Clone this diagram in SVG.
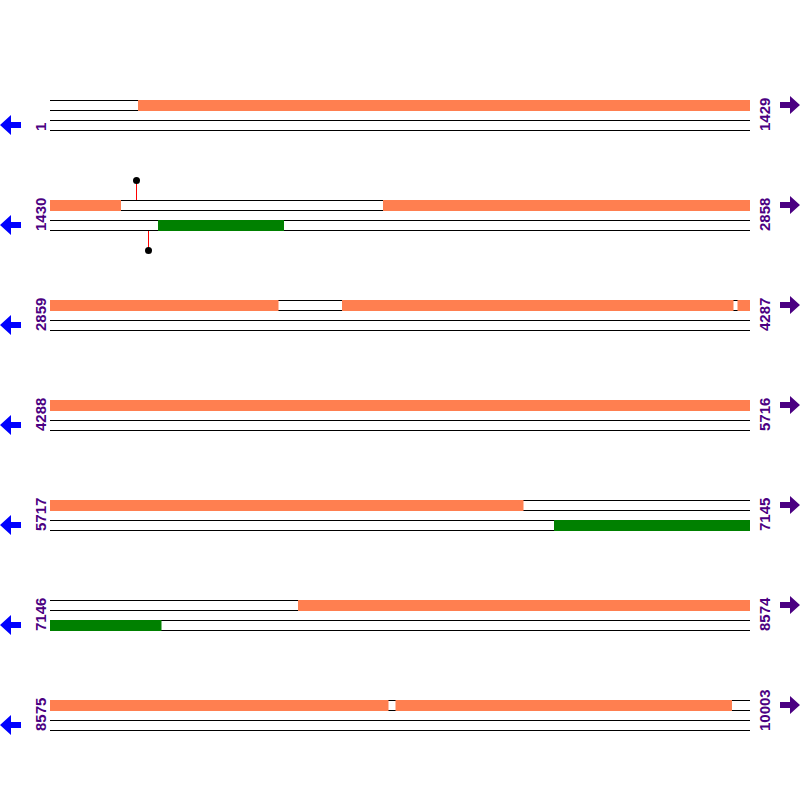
<svg xmlns="http://www.w3.org/2000/svg" width="800" height="800" viewBox="0 0 800 800">
<defs>
<style>
.ln{stroke:#000;stroke-width:1;fill:none}
.or{fill:#FF7F50}
.gr{fill:#008000}
.lbl{font-family:"Liberation Sans",Arial,sans-serif;font-weight:bold;font-size:15px;fill:#4B0082}
.la{fill:#0000FF}
.ra{fill:#4B0082}
.stem{stroke:#FF0000;stroke-width:1}
</style>
<g id="rowlines">
<line class="ln" x1="50" y1="100.5" x2="750" y2="100.5"/>
<line class="ln" x1="50" y1="110.5" x2="750" y2="110.5"/>
<line class="ln" x1="50" y1="120.5" x2="750" y2="120.5"/>
<line class="ln" x1="50" y1="130.5" x2="750" y2="130.5"/>
</g>
<polygon id="larrow" class="la" points="0,125 11,115 11,122 21,122 21,128 11,128 11,135"/>
<polygon id="rarrow" class="ra" points="800,105 790,96 790,102 780,102 780,108 790,108 790,114"/>
</defs>
<rect width="800" height="800" fill="#fff"/>

<g id="row1">
<use href="#rowlines"/>
<rect class="or" x="138" y="100" width="612" height="11"/>
<text class="lbl" transform="translate(46,131) rotate(-90)">1</text>
<text class="lbl" transform="translate(770,131) rotate(-90)">1429</text>
<use href="#larrow"/>
<use href="#rarrow"/>
</g>

<g id="row2">
<use href="#rowlines" y="100"/>
<rect class="or" x="50" y="200" width="71" height="11"/>
<rect class="or" x="383" y="200" width="367" height="11"/>
<rect class="gr" x="158" y="220" width="126" height="11"/>
<text class="lbl" transform="translate(46,231) rotate(-90)">1430</text>
<text class="lbl" transform="translate(770,231) rotate(-90)">2858</text>
<use href="#larrow" y="100"/>
<use href="#rarrow" y="100"/>
</g>

<g id="row3">
<use href="#rowlines" y="200"/>
<rect class="or" x="50" y="300" width="228.5" height="11"/>
<rect class="or" x="342" y="300" width="391.5" height="11"/>
<rect class="or" x="737.5" y="300" width="12.5" height="11"/>
<text class="lbl" transform="translate(46,331) rotate(-90)">2859</text>
<text class="lbl" transform="translate(770,331) rotate(-90)">4287</text>
<use href="#larrow" y="200"/>
<use href="#rarrow" y="200"/>
</g>

<g id="row4">
<use href="#rowlines" y="300"/>
<rect class="or" x="50" y="400" width="700" height="11"/>
<text class="lbl" transform="translate(46,431) rotate(-90)">4288</text>
<text class="lbl" transform="translate(770,431) rotate(-90)">5716</text>
<use href="#larrow" y="300"/>
<use href="#rarrow" y="300"/>
</g>

<g id="row5">
<use href="#rowlines" y="400"/>
<rect class="or" x="50" y="500" width="473.5" height="11"/>
<rect class="gr" x="554" y="520" width="196" height="11"/>
<text class="lbl" transform="translate(46,531) rotate(-90)">5717</text>
<text class="lbl" transform="translate(770,531) rotate(-90)">7145</text>
<use href="#larrow" y="400"/>
<use href="#rarrow" y="400"/>
</g>

<g id="row6">
<use href="#rowlines" y="500"/>
<rect class="or" x="298" y="600" width="452" height="11"/>
<rect class="gr" x="50" y="620" width="111.5" height="11"/>
<text class="lbl" transform="translate(46,631) rotate(-90)">7146</text>
<text class="lbl" transform="translate(770,631) rotate(-90)">8574</text>
<use href="#larrow" y="500"/>
<use href="#rarrow" y="500"/>
</g>

<g id="row7">
<use href="#rowlines" y="600"/>
<rect class="or" x="50" y="700" width="338.5" height="11"/>
<rect class="or" x="395.5" y="700" width="336.5" height="11"/>
<text class="lbl" transform="translate(46,731) rotate(-90)">8575</text>
<text class="lbl" transform="translate(770,731) rotate(-90)">10003</text>
<use href="#larrow" y="600"/>
<use href="#rarrow" y="600"/>
</g>

<g id="connectors">
<line class="stem" x1="136.5" y1="180" x2="136.5" y2="200"/>
<circle cx="136.5" cy="180.5" r="3.5" fill="#000"/>
<line class="stem" x1="148.5" y1="231" x2="148.5" y2="250"/>
<circle cx="148.5" cy="250.5" r="3.5" fill="#000"/>
</g>
</svg>
